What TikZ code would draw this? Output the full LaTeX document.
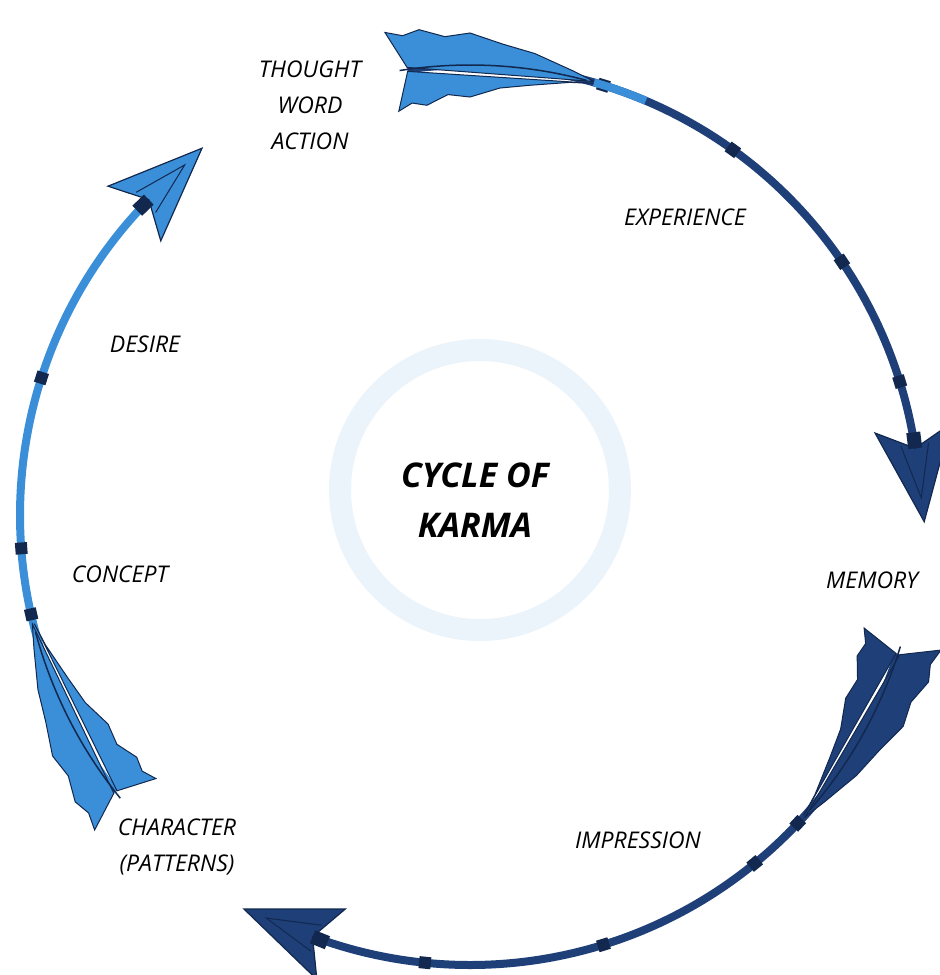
\documentclass[tikz,border=0pt]{standalone}
\usepackage{fontspec}
\setmainfont{Open Sans}
\definecolor{lb}{HTML}{3A8FD8}
\definecolor{db}{HTML}{1E3F78}
\definecolor{ol}{HTML}{12284F}
\tikzset{lbl/.style={font=\fontsize{23}{36}\selectfont\itshape, align=center, text=black},
 ttl/.style={font=\fontsize{34}{50}\selectfont\bfseries\itshape, align=center}}
\newcommand\karrowX[5]{% start, headbase, shaft colour, feather colour, head colour
 \draw[#3, line width=8] (#1:450) arc[start angle=#1, end angle=#2, radius=450];
 \filldraw[#4, draw=ol, line width=1] (#1:452) -- (#1+2:490) -- (#1:484) -- (#1-2:488) -- (#1-5:479) -- (#1-8:482) -- (#1-12:472) -- (#1-16:466) -- (#1-21:456) -- (#1-24:451) -- cycle;
 \filldraw[#4, draw=ol, line width=1] (#1:448) -- (#1+2:410) -- (#1:416) -- (#1-2:412) -- (#1-5:421) -- (#1-8:418) -- (#1-12:428) -- (#1-16:434) -- (#1-21:444) -- (#1-24:449) -- cycle;
 \draw[ol, line width=1.5] (#1+1:450) arc[start angle=#1+1, end angle=#1-23, radius=450];
 \draw[ol, line width=12] (#1-24.5:450) -- (#1-26:450);
 \begin{scope}[shift={(#2:450)}, rotate=#2-90]
  \filldraw[#5, draw=ol, line width=1.2] (-12,0) -- (-32,38) -- (62,0) -- (-32,-38) -- cycle;
  \draw[ol, line width=1] (-16,14) -- (38,0) -- (-16,-14);
  \fill[ol] (-28,-7) rectangle (-12,7);
 \end{scope}
}
\begin{document}
\begin{tikzpicture}[x=1pt,y=1pt]
\useasboundingbox (0,0) rectangle (940,-975);
\fill[white] (0,0) rectangle (940,-975);
\draw[lb!10, line width=22] (480,-490) circle[radius=140];
\begin{scope}[shift={(470,-515)}]
 \karrowX{98}{7}{db}{lb}{db}
 \draw[lb, line width=8] (74:450) arc[start angle=74, end angle=67, radius=450];
 \karrowX{-18}{-112}{db}{db}{db}
 \karrowX{218}{134}{lb}{lb}{lb}
 \foreach \a in {55,35,18,-50,-72,-95,185,163}{\draw[ol, line width=12] (\a:450) -- (\a-1.5:450);}
\end{scope}
\node[lbl] (t) at (310,-105) {THOUGHT\\WORD\\ACTION};
\node[lbl] (e) at (685,-217) {EXPERIENCE};
\node[lbl] (m) at (872,-580) {MEMORY};
\node[lbl] (i) at (638,-840) {IMPRESSION};
\node[lbl] (c) at (177,-847) {CHARACTER\\(PATTERNS)};
\node[lbl] (co) at (120,-574) {CONCEPT};
\node[lbl] (d) at (145,-344) {DESIRE};
\node[ttl] (k) at (475,-500) {CYCLE OF\\KARMA};
\end{tikzpicture}
\end{document}
